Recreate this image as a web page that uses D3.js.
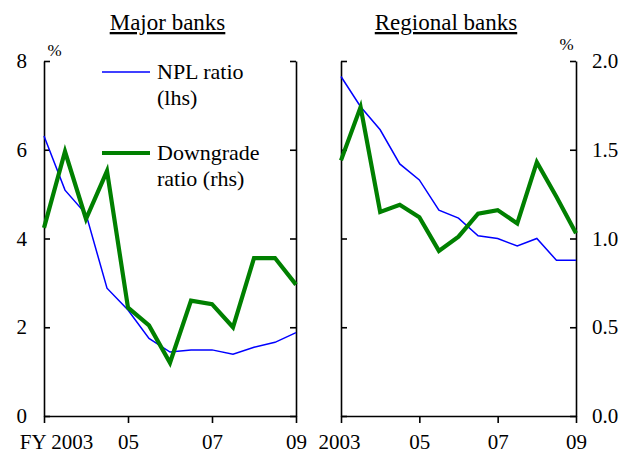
<!DOCTYPE html>
<html><head><meta charset="utf-8">
<script src="https://cdn.jsdelivr.net/npm/d3@7"></script>
<style>
html,body{margin:0;padding:0;background:#fff;}
svg{display:block;font-family:"Liberation Serif","Times New Roman",serif;}
</style></head>
<body>
<svg id="c" width="622" height="453"></svg>
<script>
// ---- data ----
const periods = [2003, 2003.5, 2004, 2004.5, 2005, 2005.5, 2006, 2006.5, 2007, 2007.5, 2008, 2008.5, 2009];
const majorNPL = [6.31, 5.09, 4.55, 2.88, 2.39, 1.75, 1.44, 1.49, 1.49, 1.39, 1.55, 1.66, 1.88];
const majorDowngrade = [1.06, 1.49, 1.11, 1.38, 0.61, 0.51, 0.30, 0.65, 0.63, 0.50, 0.89, 0.89, 0.74];
const regionalNPL = [7.65, 6.97, 6.45, 5.68, 5.32, 4.64, 4.46, 4.06, 4.00, 3.83, 4.00, 3.51, 3.51];
const regionalDowngrade = [1.44, 1.74, 1.15, 1.19, 1.12, 0.93, 1.01, 1.14, 1.16, 1.085, 1.43, 1.235, 1.03];
const xTicks = [2003, 2005, 2007, 2009];
const leftTicks = [0, 2, 4, 6, 8];
const rightTicks = [0, 0.5, 1.0, 1.5, 2.0];
const panelTitles = ["Major banks", "Regional banks"];
const legendLabels = [["NPL ratio", "(lhs)"], ["Downgrade", "ratio (rhs)"]];

const svg = d3.select("#c");
const blue = "#0000ff", green = "#008000";
const plotTop = 61, plotBottom = 416;

const yL = d3.scaleLinear().domain([0, 8]).range([plotBottom, plotTop]);
const yR = d3.scaleLinear().domain([0, 2]).range([plotBottom, plotTop]);

const panels = [
  {x0: 44, x1: 296, npl: majorNPL, dg: majorDowngrade, title: panelTitles[0], tx: 167.5, leftLabels: true, rightLabels: false, first: "FY 2003", firstDx: 12},
  {x0: 341, x1: 576, npl: regionalNPL, dg: regionalDowngrade, title: panelTitles[1], tx: 446, leftLabels: false, rightLabels: true, first: "2003", firstDx: -2}
];

const fmtX = (d, p) => d === 2003 ? p.first : String(d).slice(2);

panels.forEach(p => {
  const x = d3.scaleLinear().domain([2003, 2009]).range([p.x0, p.x1]);
  const g = svg.append("g");

  const la = g.append("g").attr("transform", `translate(${p.x0},0)`)
    .call(d3.axisLeft(yL).tickValues(leftTicks).tickSizeInner(-6).tickSizeOuter(0).tickPadding(17)
      .tickFormat(p.leftLabels ? d3.format("d") : () => ""));
  const ra = g.append("g").attr("transform", `translate(${p.x1},0)`)
    .call(d3.axisRight(yR).tickValues(rightTicks).tickSizeInner(-6).tickSizeOuter(0).tickPadding(16)
      .tickFormat(p.rightLabels ? d3.format(".1f") : () => ""));
  const ba = g.append("g").attr("transform", `translate(0,${plotBottom})`)
    .call(d3.axisBottom(x).tickValues(xTicks).tickSizeInner(7).tickSizeOuter(0).tickPadding(11)
      .tickFormat(d => fmtX(d, p)));
  [la, ra, ba].forEach(a => {
    a.selectAll("path,line").attr("stroke", "#000").attr("stroke-width", 1.6);
    a.selectAll("text").attr("fill", "#000").attr("font-size", 21).attr("font-family", "Liberation Serif");
  });
  ba.selectAll("text").filter(d => d === 2003).attr("dx", p.firstDx);
  ba.selectAll("text").attr("dy", "0.71em");

  const lineL = d3.line().x((d, i) => x(periods[i])).y(d => yL(d));
  const lineR = d3.line().x((d, i) => x(periods[i])).y(d => yR(d));
  g.append("path").datum(p.npl).attr("d", lineL).attr("fill", "none").attr("stroke", blue).attr("stroke-width", 1.5);
  g.append("path").datum(p.dg).attr("d", lineR).attr("fill", "none").attr("stroke", green).attr("stroke-width", 4.2).attr("stroke-linejoin", "miter");

  g.append("text").attr("x", p.tx).attr("y", 30).attr("text-anchor", "middle")
    .attr("font-size", 23).attr("text-decoration", "underline").text(p.title);
});

svg.append("text").attr("x", 54.5).attr("y", 56).attr("text-anchor", "middle").attr("font-size", 17).text("%");
svg.append("text").attr("x", 566.5).attr("y", 50).attr("text-anchor", "middle").attr("font-size", 17).text("%");

const leg = [{c: blue, w: 1.5, y: 72}, {c: green, w: 4.2, y: 153}];
leg.forEach((l, i) => {
  svg.append("line").attr("x1", 102).attr("x2", 150).attr("y1", l.y).attr("y2", l.y)
    .attr("stroke", l.c).attr("stroke-width", l.w);
  svg.append("text").attr("x", 157).attr("y", l.y + 7).attr("font-size", 22).text(legendLabels[i][0]);
  svg.append("text").attr("x", 157).attr("y", l.y + 33).attr("font-size", 22).text(legendLabels[i][1]);
});
</script>
</body></html>
